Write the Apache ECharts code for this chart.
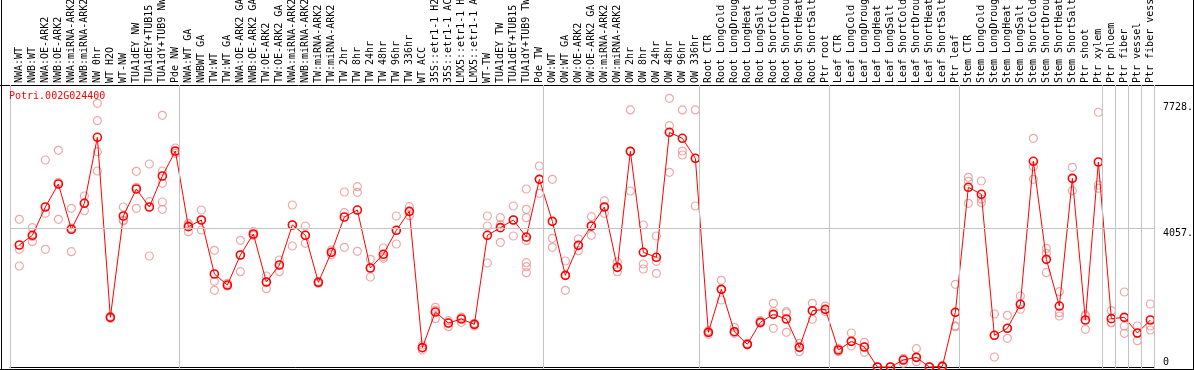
<!DOCTYPE html>
<html>
<head>
<meta charset="utf-8">
<script src="https://cdn.jsdelivr.net/npm/echarts@6/dist/echarts.min.js"></script>
<style>
html,body{margin:0;padding:0;background:#fff;}
#chart{width:1194px;height:370px;}
</style>
</head>
<body>
<div id="chart"></div>
<script>
const geneName = 'Potri.002G024400';

const categories = [
  'NWA:WT','NWB:WT','NWA:OE-ARK2','NWB:OE-ARK2','NWA:miRNA-ARK2','NWB:miRNA-ARK2','NW 0hr','WT H2O','WT-NW',
  'TUA1dEY NW','TUA1dEY+TUB15 NW','TUA1dY+TUB9 NW','Pde NW',
  'NWA:WT GA','NWBWT GA','TW:WT','TW:WT GA','NWA:OE-ARK2 GA','NWB:OE-ARK2 GA','TW:OE-ARK2','TW:OE-ARK2 GA',
  'NWA:miRNA-ARK2 GA','NWB:miRNA-ARK2 GA','TW:miRNA-ARK2','TW:miRNA-ARK2 GA','TW 2hr','TW 8hr','TW 24hr','TW 48hr',
  'TW 96hr','TW 336hr','WT ACC','35S::etr1-1 H2O','35S::etr1-1 ACC','LMX5::etr1-1 H2O','LMX5::etr1-1 ACC','WT-TW',
  'TUA1dEY TW','TUA1dEY+TUB15 TW','TUA1dY+TUB9 TW','Pde TW',
  'OW:WT','OW:WT GA','OW:OE-ARK2','OW:OE-ARK2 GA','OW:miRNA-ARK2','OW:miRNA-ARK2 GA','OW 2hr','OW 8hr','OW 24hr',
  'OW 48hr','OW 96hr','OW 336hr',
  'Root CTR','Root LongCold','Root LongDrought','Root LongHeat','Root LongSalt','Root ShortCold','Root ShortDrought',
  'Root ShortHeat','Root ShortSalt','Ptr root',
  'Leaf CTR','Leaf LongCold','Leaf LongDrought','Leaf LongHeat','Leaf LongSalt','Leaf ShortCold','Leaf ShortDrought',
  'Leaf ShortHeat','Leaf ShortSalt','Ptr leaf',
  'Stem CTR','Stem LongCold','Stem LongDrought','Stem LongHeat','Stem LongSalt','Stem ShortCold','Stem ShortDrought',
  'Stem ShortHeat','Stem ShortSalt','Ptr shoot','Ptr xylem',
  'Ptr phloem','Ptr fiber','Ptr vessel','Ptr fiber vessel'
];

// index of the first category of each group (last entry = number of categories)
const groupStarts = [0, 13, 41, 53, 63, 73, 84, 85, 86, 87, 88];

const means = [
  3561,3844,4670,5341,4019,4778,6704,1450,4407,5196,4670,5575,6305,
  4096,4291,2715,2393,3269,3882,2481,2977,4145,3844,2472,3348,4378,4582,2890,3289,3990,4544,
  565,1605,1284,1401,1245,3844,4067,4291,3794,5477,
  4252,2676,3551,4116,4670,2909,6295,3348,3202,6850,6675,6091,
  1012,2267,1031,662,1304,1537,1401,574,1644,1683,
  496,749,584,0,0,204,282,0,20,1596,
  5245,5041,925,1130,1830,6004,3143,1780,5507,1372,5984,
  1411,1450,992,1372
];

const replicates = [
  [4311,3435,2948],[4067,3658,3807],[6042,4485,3435],[6325,4311,5387],[4632,3365,4060],[4991,4562,4781],
  [7697,7189,6284,5721],[1420,1450,1480],[4670,4270,4280],[5712,4632,5244],[5925,4825,3240],
  [7347,5721,5362,4816,4603],[6392,6237,6286],
  [4194,3950,4144],[4582,3999,4291],[3406,2501,2239],[2443,2364,2372],[3698,2782,3269],[3950,3853,3843],
  [2656,2286,2481],[3123,2782,2977],[4728,3532,4145],[4116,3611,3844],[2440,2472,2500],[3415,3278,3348],
  [5108,4504,3494],[5263,5099,3377],[3143,2627,2890],[3473,3172,3222],[4407,3590,3990],[4679,4416,4544],
  [642,496,565],[1742,1411,1662],[1352,1176,1284],[1440,1304,1460],[1275,1197,1245],[4407,4116,3036],
  [4358,4154,3640],[4699,3824,4291],[5196,4603,4358,3687,3044,2928,2753],[5867,5069,5477],
  [5477,3756,3494],[3094,2239,2676],[3736,3395,3551],[4387,3844,4116],[4855,4485,4670],[3065,2782,2909],
  [7503,5137,6295],[4145,3007,2860],[3824,3085,2735],[7843,7043,5682],[7503,6305,6188],[7503,4699,6091],
  [1060,954,1012],[2531,1956,2267],[1159,984,1031],[640,662,690],[1352,1275,1304],[1859,1130,1620],
  [1614,1012,1577],[692,447,574],[1859,1392,1644],[1780,1614,1683],
  [447,545,496],[992,613,749],[720,429,584],[0,0,0],[0,0,0],[254,108,204],[534,155,282],[0,0,0],[0,20,40],
  [2414,1176,1198],
  [5536,4778,5420],[5429,4796,4898],[1547,292,925],[1509,838,1130],[2072,1684,1830],[6675,5847,5477],
  [3464,3319,2753],[2198,1585,1489],[5828,5146,5507],[1489,1100,1527],[7435,5312,5216],
  [1644,1294,1295],[2189,1197,984],[1197,768,992],[1839,1080,1197]
];

const yTickValues = [0, 4057, 7728];

// ---- build ----
const OFF = 0.72; // point position inside its band
const xMin = -OFF, xMax = categories.length - OFF;
const sepValues = groupStarts.map(k => k - OFF);
const labelValues = categories.map((c, i) => i);
const meanData = means.map((v, i) => [i, v]);
const repData = [];
replicates.forEach((arr, i) => arr.forEach(v => repData.push([i, v])));

const FONT = '"DejaVu Sans Mono", "Liberation Mono", monospace';
const GRAY = '#c4c4c4';

const chart = echarts.init(document.getElementById('chart'), null, {renderer: 'canvas'});
chart.setOption({
  animation: false,
  backgroundColor: '#fff',
  title: {
    text: geneName, left: 9, top: 91, padding: 0,
    textStyle: {color: '#ff0000', fontSize: 10, fontWeight: 'normal', fontFamily: FONT}
  },
  grid: {left: 10, right: 40, top: 85, bottom: 1, containLabel: false, outerBoundsMode: 'none'},
  xAxis: {
    type: 'value', position: 'top', min: xMin, max: xMax,
    axisLine: {show: true, lineStyle: {color: '#000', width: 1}},
    axisTick: {show: true, customValues: sepValues, length: 85, inside: false, lineStyle: {color: GRAY, width: 1}},
    axisLabel: {
      customValues: labelValues, rotate: 90, margin: 2, color: '#000', fontSize: 10, fontFamily: FONT,
      hideOverlap: false,
      formatter: v => categories[Math.round(v)] || ''
    },
    splitLine: {show: false}
  },
  yAxis: {
    type: 'value', position: 'right', min: -58, max: 8231,
    axisLine: {show: false}, axisTick: {show: false}, splitLine: {show: false},
    axisLabel: {
      customValues: yTickValues, margin: 9, color: '#000', fontSize: 10, fontFamily: FONT,
      verticalAlign: 'middle',
      formatter: v => v === 0 ? '{lo|0}' : '{hi|' + v + '.}',
      rich: {
        hi: {fontSize: 10, fontFamily: FONT, color: '#000', padding: [11, 0, 0, 0]},
        lo: {fontSize: 10, fontFamily: FONT, color: '#000', padding: [0, 0, 10, 0]}
      }
    }
  },
  series: [
    {
      type: 'scatter', z: 1, data: repData, symbol: 'circle', symbolSize: 8,
      itemStyle: {color: 'rgba(0,0,0,0)', borderColor: '#e89494', borderWidth: 1.2},
      silent: true,
      markLine: {
        silent: true, symbol: ['none', 'none'], label: {show: false},
        lineStyle: {color: GRAY, type: 'solid', width: 1},
        data: sepValues.map(v => ({xAxis: v})).concat([{yAxis: 4057}])
      }
    },
    {
      type: 'line', z: 3, data: meanData, showAllSymbol: true, symbol: 'circle', symbolSize: 8,
      lineStyle: {color: '#ff0000', width: 1},
      itemStyle: {color: 'rgba(0,0,0,0)', borderColor: '#ff0000', borderWidth: 1.6},
      silent: true
    }
  ],
  graphic: [
    {type: 'line', silent: true, shape: {x1: 0, y1: 85.5, x2: 1194, y2: 85.5}, style: {stroke: '#000', lineWidth: 1}},
    {type: 'line', silent: true, shape: {x1: 1.5, y1: 0, x2: 1.5, y2: 370}, style: {stroke: '#000', lineWidth: 1}},
    {type: 'line', silent: true, shape: {x1: 0, y1: 369.5, x2: 1194, y2: 369.5}, style: {stroke: '#000', lineWidth: 1}},
    {type: 'line', silent: true, shape: {x1: 1193.5, y1: 0, x2: 1193.5, y2: 370}, style: {stroke: '#000', lineWidth: 1}}
  ]
});
</script>
</body>
</html>
